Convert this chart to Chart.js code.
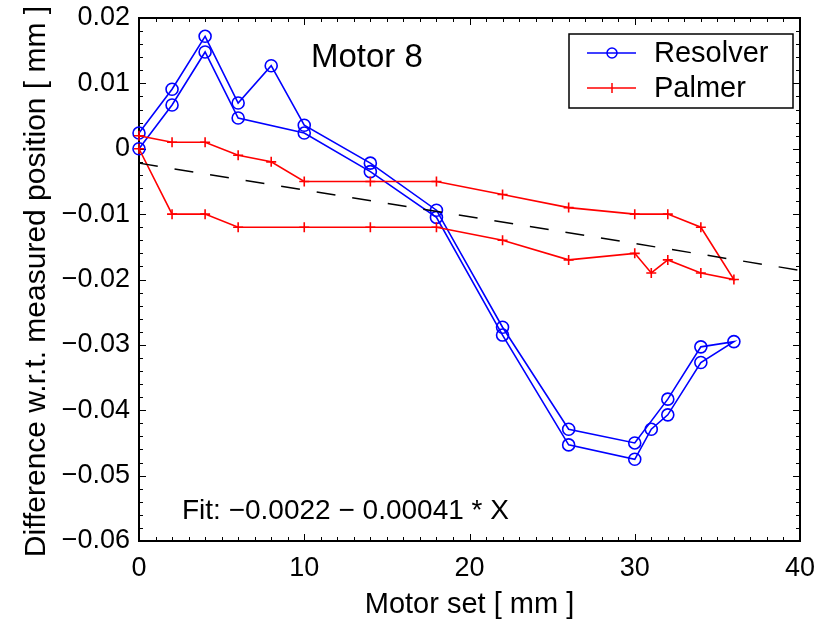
<!DOCTYPE html>
<html>
<head>
<meta charset="utf-8">
<script src="https://cdn.jsdelivr.net/npm/chart.js@4.4.1/dist/chart.umd.min.js"></script>
<style>
html, body { margin: 0; padding: 0; background: #fff; }
#chart { display: block; }
</style>
</head>
<body>
<canvas id="chart" width="822" height="623"></canvas>
<script>
// measurement goes out to 36 mm and back to 0
const resolverX = [0, 2, 4, 6, 8, 10, 14, 18, 22, 26, 30, 32, 34, 36, 34, 32, 31, 30, 26, 22, 18, 14, 10, 6, 4, 2, 0]
const resolverY = [0.0024, 0.0091, 0.0172, 0.0070, 0.0127, 0.0036, -0.0022, -0.0094, -0.0273, -0.0429, -0.0450, -0.0383, -0.0303, -0.0295,
                   -0.0327, -0.0407, -0.0429, -0.0475, -0.0453, -0.0285, -0.0105, -0.0035, 0.0024, 0.0047, 0.0148, 0.0067, 0.0000]
const palmerX = [0, 2, 4, 6, 8, 10, 14, 18, 22, 26, 30, 32, 34, 36, 34, 32, 31, 30, 26, 22, 18, 14, 10, 6, 4, 2, 0]
const palmerY = [0.002, 0.001, 0.001, -0.001, -0.002, -0.005, -0.005, -0.005, -0.007, -0.009, -0.010, -0.010, -0.012, -0.020,
                 -0.019, -0.017, -0.019, -0.016, -0.017, -0.014, -0.012, -0.012, -0.012, -0.012, -0.010, -0.010, 0.000]
const fitX = [0, 40]
const fitY = [-0.0022, -0.0186]

const xTicks = [0, 10, 20, 30, 40]
const yTicks = [0.02, 0.01, 0, -0.01, -0.02, -0.03, -0.04, -0.05, -0.06]

const FONT = '"Liberation Sans", Arial, Helvetica, sans-serif'
const BLUE = 'rgb(0, 0, 255)'
const RED = 'rgb(255, 0, 0)'

function pts(xs, ys){
    return xs.map((v, i) => ({x: v, y: ys[i]}))
}

function fmt(v){
    let r = Math.round(v*100)/100
    if(r == 0) return '0'
    return r.toFixed(2).replace('-', '\u2212')
}

// box + inward ticks on all four sides, like the original plot
const frame = {
    id: 'frame',
    beforeDatasetsDraw(chart){
        const {ctx, chartArea: a, scales: {x, y}} = chart
        ctx.save()
        ctx.strokeStyle = '#000'
        ctx.lineWidth = 1
        for(let v = 0; v <= 40; v++){
            let px = Math.round(x.getPixelForValue(v)) + 0.5
            let len = v % 10 == 0 ? 7 : 4
            ctx.beginPath()
            ctx.moveTo(px, a.bottom); ctx.lineTo(px, a.bottom - len)
            ctx.moveTo(px, a.top); ctx.lineTo(px, a.top + len)
            ctx.stroke()
        }
        for(let i = 0; i <= 40; i++){
            let py = Math.round(y.getPixelForValue(-0.06 + i*0.002)) + 0.5
            let len = i % 5 == 0 ? 7 : 4
            ctx.beginPath()
            ctx.moveTo(a.left, py); ctx.lineTo(a.left + len, py)
            ctx.moveTo(a.right, py); ctx.lineTo(a.right - len, py)
            ctx.stroke()
        }
        ctx.lineWidth = 2
        ctx.strokeRect(a.left, a.top, a.right - a.left, a.bottom - a.top)
        ctx.restore()
    },
    afterDraw(chart){
        const {ctx, chartArea: a} = chart
        ctx.save()
        ctx.fillStyle = '#000'
        // axis titles
        ctx.font = '29px ' + FONT
        ctx.textAlign = 'center'
        ctx.textBaseline = 'alphabetic'
        ctx.fillText('Motor set [ mm ]', (a.left + a.right)/2, 613)
        ctx.save()
        ctx.translate(45, (a.top + a.bottom)/2 + 2)
        ctx.rotate(-Math.PI/2)
        ctx.font = '30px ' + FONT
        ctx.fillText('Difference w.r.t. measured position [ mm ]', 0, 0)
        ctx.restore()
        // annotations
        ctx.textAlign = 'left'
        ctx.font = '33px ' + FONT
        ctx.fillText('Motor 8', 311, 67)
        ctx.font = '28px ' + FONT
        ctx.fillText('Fit: \u22120.0022 \u2212 0.00041 * X', 182, 519)
        // legend
        const lx = 569, ly = 34, lw = 224, lh = 74
        ctx.fillStyle = '#fff'
        ctx.fillRect(lx, ly, lw, lh)
        ctx.strokeStyle = '#000'
        ctx.lineWidth = 1.5
        ctx.strokeRect(lx, ly, lw, lh)
        const items = [
            {label: 'Resolver', color: BLUE, marker: 'circle', y: 53},
            {label: 'Palmer', color: RED, marker: 'cross', y: 88}
        ]
        ctx.font = '29px ' + FONT
        ctx.textBaseline = 'middle'
        for(let it of items){
            ctx.strokeStyle = it.color
            ctx.lineWidth = 1.5
            ctx.beginPath()
            ctx.moveTo(587, it.y); ctx.lineTo(636, it.y)
            ctx.stroke()
            ctx.beginPath()
            if(it.marker == 'circle'){
                ctx.arc(612, it.y, 5, 0, Math.PI*2)
            }else{
                ctx.moveTo(612, it.y - 5); ctx.lineTo(612, it.y + 5)
            }
            ctx.stroke()
            ctx.fillStyle = '#000'
            ctx.fillText(it.label, 654, it.y + 1)
        }
        ctx.restore()
    }
}

Chart.defaults.color = '#000'
Chart.defaults.font.family = FONT

const ctx = document.getElementById('chart').getContext('2d')
const myChart = new Chart(ctx, {
    type: 'scatter',
    data: {
        datasets: [
            {
                label: 'fit',
                data: pts(fitX, fitY),
                showLine: true,
                borderColor: '#000',
                borderWidth: 1.5,
                borderDash: [19, 17],
                pointRadius: 0,
                order: 0,
                clip: false
            },
            {
                label: 'Palmer',
                data: pts(palmerX, palmerY),
                showLine: true,
                borderColor: RED,
                borderWidth: 1.6,
                pointStyle: 'cross',
                pointRadius: 5,
                pointBorderColor: RED,
                pointBorderWidth: 1.6,
                order: 1,
                clip: false
            },
            {
                label: 'Resolver',
                data: pts(resolverX, resolverY),
                showLine: true,
                borderColor: BLUE,
                borderWidth: 1.6,
                pointStyle: 'circle',
                pointRadius: 6,
                pointBorderColor: BLUE,
                pointBackgroundColor: 'rgba(0,0,0,0)',
                pointBorderWidth: 1.6,
                order: 2,
                clip: false
            }
        ]
    },
    options: {
        responsive: false,
        animation: false,
        devicePixelRatio: 1,
        layout: {padding: {left: 0, top: 18, right: 22, bottom: 0}},
        plugins: {
            legend: {display: false},
            tooltip: {enabled: false}
        },
        scales: {
            x: {
                type: 'linear',
                min: 0,
                max: 40,
                afterBuildTicks: s => { s.ticks = xTicks.map(v => ({value: v})) },
                afterFit: s => { s.height = 82; s.paddingLeft = 0; s.paddingRight = 0 },
                grid: {display: false, drawTicks: false},
                border: {display: false},
                ticks: {font: {size: 27}, padding: 11, maxRotation: 0, callback: v => String(v)}
            },
            y: {
                type: 'linear',
                min: -0.06,
                max: 0.02,
                afterBuildTicks: s => { s.ticks = yTicks.map(v => ({value: v})) },
                afterFit: s => { s.width = 139; s.paddingTop = 0; s.paddingBottom = 0 },
                grid: {display: false, drawTicks: false},
                border: {display: false},
                ticks: {font: {size: 27}, padding: 9, callback: v => fmt(v)}
            }
        }
    },
    plugins: [frame]
})
</script>
</body>
</html>
